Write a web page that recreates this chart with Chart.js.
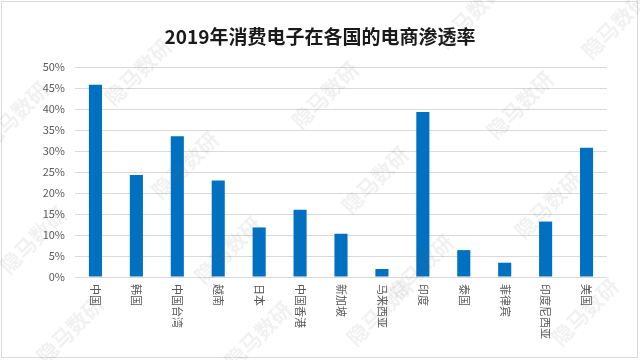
<!DOCTYPE html>
<html>
<head>
<meta charset="utf-8">
<script src="https://cdn.jsdelivr.net/npm/chart.js@4/dist/chart.umd.min.js"></script>
<style>
html,body{margin:0;padding:0;background:#fff;}
#wrap{width:640px;height:360px;position:relative;}
</style>
</head>
<body>
<div id="wrap"><canvas id="c" width="640" height="360"></canvas></div>
<script>
const categories = ['中国','韩国','中国台湾','越南','日本','中国香港','新加坡','马来西亚','印度','泰国','菲律宾','印度尼西亚','美国'];
const penetration = [45.8, 24.3, 33.5, 23.0, 11.8, 16.0, 10.3, 1.9, 39.3, 6.4, 3.4, 13.2, 30.8];
const yTicks = [0,5,10,15,20,25,30,35,40,45,50];
const titleText = '2019年消费电子在各国的电商渗透率';
const watermarkText = '隐马数研';
const watermarkSpots = [[15,115],[138,72],[325,95],[470,15],[615,25],[185,165],[375,180],[520,105],[548,205],[33,240],[228,250],[420,268],[70,330],[258,335],[380,312],[585,312]];

const FONT = '"Noto Sans CJK SC","Microsoft YaHei",sans-serif';

const decor = {
  id: 'decor',
  beforeDraw(chart) {
    const ctx = chart.ctx;
    ctx.save();
    ctx.fillStyle = '#ffffff';
    ctx.fillRect(0, 0, chart.width, chart.height);
    ctx.strokeStyle = '#d9d9d9';
    ctx.lineWidth = 1;
    ctx.strokeRect(1.5, 1.5, chart.width - 4, chart.height - 4);
    ctx.restore();
  },
  afterDraw(chart) {
    const ctx = chart.ctx;
    const xs = chart.scales.x;
    // title
    ctx.save();
    ctx.fillStyle = '#1a1a1a';
    ctx.font = 'bold 19px ' + FONT;
    ctx.textAlign = 'center';
    ctx.textBaseline = 'middle';
    ctx.fillText(titleText, chart.width / 2, 37);
    ctx.restore();
    // category labels, rotated clockwise
    ctx.save();
    ctx.fillStyle = '#595959';
    ctx.font = '11px ' + FONT;
    ctx.textAlign = 'left';
    ctx.textBaseline = 'middle';
    categories.forEach((lab, i) => {
      const x = xs.getPixelForValue(i);
      ctx.save();
      ctx.translate(x, xs.top + 7);
      ctx.rotate(Math.PI / 2);
      ctx.fillText(lab, 0, 0);
      ctx.restore();
    });
    ctx.restore();
    // watermarks
    ctx.save();
    ctx.fillStyle = 'rgba(120,120,120,0.10)';
    ctx.font = 'bold 21px ' + FONT;
    ctx.textAlign = 'center';
    ctx.textBaseline = 'middle';
    watermarkSpots.forEach(([x, y]) => {
      ctx.save();
      ctx.translate(x, y);
      ctx.rotate(-Math.PI / 4);
      ctx.fillText(watermarkText, 0, 0);
      ctx.restore();
    });
    ctx.restore();
  }
};

new Chart(document.getElementById('c'), {
  type: 'bar',
  data: {
    labels: categories,
    datasets: [{
      data: penetration,
      backgroundColor: '#0070C0',
      borderWidth: 0,
      barPercentage: 0.32,
      categoryPercentage: 1.0
    }]
  },
  options: {
    responsive: false,
    animation: false,
    devicePixelRatio: 1,
    layout: { padding: { left: 0, right: 33, top: 67, bottom: 0 } },
    plugins: {
      legend: { display: false },
      tooltip: { enabled: false },
      title: { display: false }
    },
    scales: {
      x: {
        grid: { display: false },
        border: { display: false },
        ticks: { display: false },
        afterFit(scale) { scale.height = 83; }
      },
      y: {
        min: 0,
        max: 50,
        afterBuildTicks(scale) { scale.ticks = yTicks.map(v => ({ value: v })); },
        afterFit(scale) { scale.width = 75; },
        grid: { color: '#d9d9d9', drawTicks: false, lineWidth: 1 },
        border: { display: false },
        ticks: {
          color: '#595959',
          font: { family: FONT, size: 11 },
          padding: 10,
          callback: v => v + '%'
        }
      }
    }
  },
  plugins: [decor]
});
</script>
</body>
</html>
